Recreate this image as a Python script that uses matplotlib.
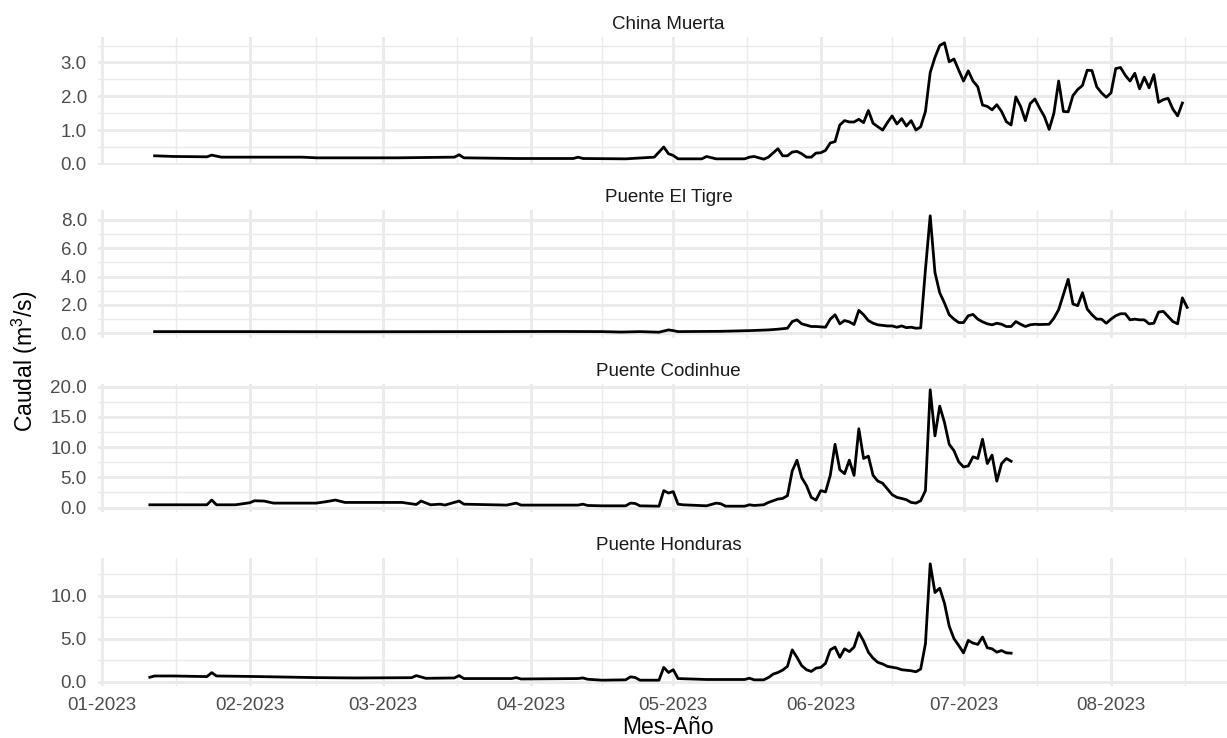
import numpy as np
import pandas as pd
import matplotlib
matplotlib.use("Agg")
import matplotlib.pyplot as plt
import matplotlib.dates as mdates
from matplotlib.ticker import MultipleLocator, FormatStrFormatter, FixedLocator

plt.rcParams['font.family'] = ['Liberation Sans', 'DejaVu Sans']
plt.rcParams['mathtext.fontset'] = 'custom'
plt.rcParams['mathtext.rm'] = 'Liberation Sans'

BASE_DATE = "2023-01-01"
stations = ["China Muerta", "Puente El Tigre", "Puente Codinhue", "Puente Honduras"]
y_steps = [1.0, 2.0, 5.0, 5.0]

# observation dates given as days since 2023-01-01
cm_day = [11, 15, 22, 23, 25, 42, 45, 62, 74, 75, 76, 87, 99, 100, 101, 110, 116, 118, 119, 120,
          121, 126, 127, 129, 135, 136, 137, 139, 140, 142, 143, 144, 145, 146, 147, 148, 149, 150,
          151, 152] + list(range(153, 228))
cm_val = [0.24, 0.22, 0.21, 0.26, 0.2, 0.2, 0.18, 0.18, 0.2, 0.27, 0.18, 0.16, 0.16, 0.2, 0.16,
          0.15, 0.2, 0.5, 0.3, 0.25, 0.15, 0.15, 0.22, 0.15, 0.15, 0.2, 0.22, 0.14, 0.2, 0.45,
          0.24, 0.24, 0.35, 0.37, 0.3, 0.2, 0.2, 0.32, 0.33, 0.4,
          0.62, 0.66, 1.15, 1.28, 1.24, 1.24, 1.32, 1.22, 1.58, 1.2,
          1.1, 1.0, 1.22, 1.42, 1.18, 1.34, 1.12, 1.28, 1.0, 1.1,
          1.55, 2.7, 3.15, 3.5, 3.58, 3.02, 3.1, 2.77, 2.45, 2.75,
          2.45, 2.28, 1.74, 1.7, 1.6, 1.75, 1.55, 1.25, 1.15, 1.98,
          1.7, 1.28, 1.78, 1.92, 1.65, 1.4, 1.02, 1.5, 2.45, 1.55,
          1.54, 2.02, 2.2, 2.32, 2.77, 2.76, 2.28, 2.1, 1.97, 2.1,
          2.82, 2.85, 2.62, 2.45, 2.68, 2.22, 2.56, 2.25, 2.64, 1.82,
          1.9, 1.94, 1.62, 1.42, 1.8]

et_day = [11, 30, 55, 80, 95, 105, 109, 113, 117, 119, 120, 121, 130, 136, 140, 142, 144, 145,
          146, 147, 149, 150, 152, 153, 154, 155, 156, 157, 158, 159, 160, 161, 162, 163, 165,
          166, 167, 168, 169, 170, 171, 172] + list(range(173, 198)) + [199] + list(range(200, 229))
et_val = [0.12, 0.12, 0.11, 0.12, 0.13, 0.12, 0.09, 0.12, 0.08, 0.24, 0.19, 0.12, 0.14, 0.19,
          0.24, 0.29, 0.36, 0.83, 0.95, 0.67, 0.48, 0.48, 0.43, 1.0, 1.31, 0.67, 0.9, 0.81, 0.62,
          1.62, 1.31, 0.9, 0.71, 0.6, 0.52, 0.52, 0.43, 0.52, 0.4, 0.43, 0.36, 0.38,
          4.5, 8.29, 4.29, 2.86, 2.14, 1.31, 1.0, 0.76, 0.76, 1.24, 1.33, 1.0, 0.81, 0.67, 0.6,
          0.71, 0.64, 0.48, 0.48, 0.83, 0.64, 0.48, 0.6, 0.64, 0.62,
          0.64,
          1.07, 1.67, 2.74, 3.81, 2.07, 1.95, 2.86, 1.71, 1.31, 1.0, 1.0, 0.71, 1.0, 1.24, 1.38,
          1.38, 0.95, 1.0, 0.95, 0.95, 0.67, 0.71, 1.5, 1.55, 1.19, 0.83, 0.67, 2.5, 1.83]

cod_day = [10, 15, 22, 23, 24, 28, 31, 32, 34, 36, 45, 47, 49, 51, 56, 63, 66, 67, 69, 71, 72,
           75, 76, 85, 87, 88, 100, 101, 102, 105, 110, 111, 112, 113, 117, 118, 119, 120, 121,
           122, 127, 129, 130, 131, 135, 136, 137, 139, 140] + list(range(142, 192))
cod_val = [0.45, 0.45, 0.45, 1.24, 0.45, 0.45, 0.79, 1.12, 1.07, 0.73, 0.73, 0.96, 1.24, 0.84,
           0.84, 0.84, 0.5, 1.07, 0.45, 0.55, 0.4, 1.07, 0.55, 0.4, 0.73, 0.4, 0.4, 0.55, 0.34,
           0.28, 0.28, 0.73, 0.67, 0.28, 0.22, 2.8, 2.4, 2.63, 0.56, 0.45, 0.28, 0.73, 0.62, 0.22,
           0.22, 0.45, 0.34, 0.45, 0.84,
           1.4, 1.5, 1.96, 6.05, 7.84, 4.93, 3.64, 1.68, 1.23, 2.8,
           2.58, 5.32, 10.47, 6.27, 5.6, 7.84, 5.32, 13.05, 8.12, 8.51,
           5.32, 4.37, 4.03, 3.08, 2.13, 1.68, 1.5, 1.29, 0.84, 0.73,
           1.12, 2.8, 19.5, 11.87, 16.8, 14.1, 10.47, 9.41, 7.56, 6.72,
           6.89, 8.4, 8.12, 11.31, 7.28, 8.68, 4.37, 7.28, 8.12, 7.67]

hon_day = [10, 11, 15, 22, 23, 24, 28, 33, 45, 53, 65, 66, 68, 74, 75, 76, 86, 87, 88, 100, 101,
           102, 105, 110, 111, 112, 113, 117, 118, 119, 120, 121, 127, 135, 136, 137, 139] + \
          list(range(140, 166)) + [167, 168, 170, 171] + list(range(172, 192))
hon_val = [0.5, 0.65, 0.65, 0.58, 1.04, 0.65, 0.62, 0.58, 0.46, 0.42, 0.45, 0.69, 0.38, 0.42,
           0.69, 0.35, 0.35, 0.46, 0.3, 0.35, 0.42, 0.27, 0.16, 0.2, 0.55, 0.47, 0.16, 0.16, 1.65,
           1.06, 1.38, 0.35, 0.24, 0.24, 0.39, 0.2, 0.2,
           0.47, 0.87, 1.06, 1.34, 1.77, 3.7, 2.83, 1.85, 1.38, 1.18,
           1.57, 1.65, 2.13, 3.7, 4.02, 2.83, 3.82, 3.5, 4.02, 5.71,
           4.72, 3.43, 2.72, 2.24, 2.05, 1.77,
           1.57, 1.38, 1.26, 1.14,
           1.46, 4.41, 13.74, 10.39, 10.9, 9.13, 6.46, 5.0, 4.21, 3.35,
           4.8, 4.49, 4.33, 5.2, 3.94, 3.82, 3.43, 3.62, 3.35, 3.31]

series = [(cm_day, cm_val), (et_day, et_val), (cod_day, cod_val), (hon_day, hon_val)]

base = pd.Timestamp(BASE_DATE)
to_dates = lambda d: base + pd.to_timedelta(np.array(d), unit="D")

W, H = 1227, 738
fig = plt.figure(figsize=(W / 100, H / 100), dpi=100)
fig.patch.set_facecolor("white")

left_px, right_px = 98, 1239
tops = [37, 210, 384, 558]
ph = 128

# x range (ggplot-like 5% expansion)
all_x = np.concatenate([mdates.date2num(to_dates(d)) for d, _ in series])
xmin, xmax = all_x.min(), all_x.max()
xr = xmax - xmin
xlim = (xmin - 0.05 * xr, xmax + 0.05 * xr)

month_starts = mdates.date2num(pd.date_range("2022-12-01", "2023-10-01", freq="MS"))
minor_x = (month_starts[:-1] + month_starts[1:]) / 2

grid_col = "#EBEBEB"
axes = []
for i, (name, (d, v)) in enumerate(zip(stations, series)):
    ax = fig.add_axes([left_px / W, 1 - (tops[i] + ph) / H, (right_px - left_px) / W, ph / H])
    axes.append(ax)
    x = to_dates(d)
    ax.plot(x, v, color="black", lw=2.0, zorder=3, solid_joinstyle="round")
    vmin, vmax = min(v), max(v)
    r = vmax - vmin
    ax.set_ylim(vmin - 0.05 * r, vmax + 0.05 * r)
    ax.set_xlim(xlim)
    ax.yaxis.set_major_locator(MultipleLocator(y_steps[i]))
    ax.yaxis.set_minor_locator(MultipleLocator(y_steps[i] / 2))
    ax.yaxis.set_major_formatter(FormatStrFormatter("%.1f"))
    ax.xaxis.set_major_locator(mdates.MonthLocator())
    ax.xaxis.set_minor_locator(FixedLocator(minor_x))
    ax.xaxis.set_major_formatter(mdates.DateFormatter("%m-%Y"))
    ax.grid(which="major", color=grid_col, lw=2.1, zorder=0)
    ax.grid(which="minor", color=grid_col, lw=1.05, zorder=0)
    ax.set_axisbelow(True)
    for s in ax.spines.values():
        s.set_visible(False)
    ax.tick_params(which="both", length=0)
    ax.tick_params(axis="y", labelsize=13.5, labelcolor="#4D4D4D", pad=8)
    ax.tick_params(axis="x", labelsize=13.5, labelcolor="#4D4D4D", pad=8)
    if i < 3:
        ax.tick_params(axis="x", labelbottom=False)
    ax.set_title(name, fontsize=13.5, color="#1A1A1A", pad=6)

fig.text(668 / W, 1 - 727 / H, "Mes-Año", ha="center", va="center", fontsize=16.5, color="black")
fig.text(25 / W, 1 - 361 / H, r"Caudal (m$^{3}$/s)", ha="center", va="center", rotation=90,
         fontsize=16.5, color="black")

fig.savefig("out.png", dpi=100, facecolor="white")
